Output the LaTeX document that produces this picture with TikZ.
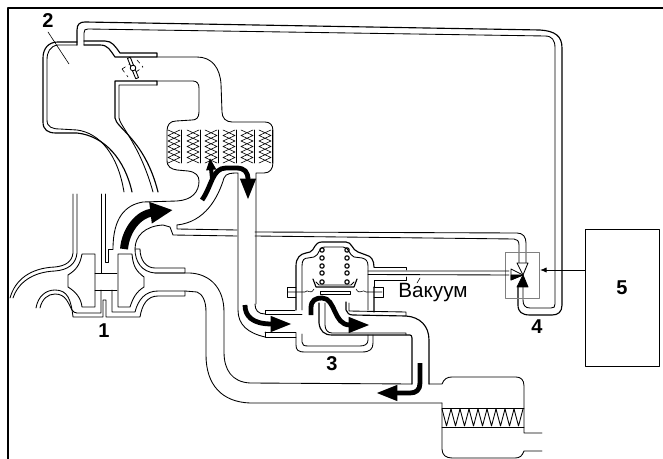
\documentclass[tikz,border=0pt]{standalone}
\usepackage{fontspec}
\setmainfont{Liberation Sans}
\usetikzlibrary{arrows.meta}
\begin{document}
\begin{tikzpicture}[x=.75pt,y=-.75pt,line cap=round,line join=round]
  \tikzset{pipe/.style={line width=.65pt},
    wall/.style={line width=.85pt},
    fine/.style={line width=.45pt},
    flow/.style={line width=3.6pt,line cap=butt,-{Triangle[length=16pt,width=11pt]}},
    num/.style={font=\fontsize{15}{18}\selectfont\bfseries,inner sep=0pt}}
  \useasboundingbox (0,0) rectangle (663,459);
  % frame
  \draw[line width=1.6pt,line cap=butt] (8,459)--(8,8)--(663,8);
  % chamber 2
  \draw[wall] (77,42)--(58,42) .. controls (48,42) and (43,49) .. (43,58)--(43,122) .. controls (43,130) and (48,133) .. (56,133)--(77,133) .. controls (105,136) and (125,160) .. (132,192);
  \draw[pipe] (77,45)--(58,45) .. controls (50,46) and (47,52) .. (47,60)--(47,120) .. controls (47,127) and (52,129) .. (60,129)--(77,130) .. controls (100,133) and (118,155) .. (124,192);
  \draw[wall] (77,45)--(77,30) .. controls (77,24) and (80,22) .. (85,22)--(540,30) .. controls (555,31) and (562,36) .. (562,48)--(562,305) .. controls (562,312) and (558,315) .. (552,315)--(530,315) .. controls (522,315) and (518,312) .. (518,305)--(518,287);
  \draw[pipe] (84,45)--(84,33) .. controls (84,30) and (85,29) .. (88,29)--(545,36) .. controls (552,36) and (555,40) .. (555,48)--(555,304) .. controls (555,307) and (554,308) .. (551,308)--(530,308) .. controls (525,308) and (523,305) .. (523,300)--(523,287);
  \draw[wall] (84,41)--(105,41) .. controls (112,41) and (115,46) .. (120,53)--(157,53)--(157,57)--(115,57) .. controls (110,50) and (108,45) .. (100,45)--(84,45);
  % throttle
  \draw[pipe] (157,57)--(197,57) .. controls (212,57) and (220,68) .. (221,84)--(222,112) .. controls (222,118) and (226,122) .. (232,122)--(265,122) .. controls (270,122) and (273,125) .. (273,131)--(273,162) .. controls (273,169) and (270,173) .. (264,173)--(256,173)--(256,304);
  \draw[wall] (157,85)--(157,81)--(115,81)--(115,118) .. controls (116,128) and (145,140) .. (158,192);
  \draw[pipe] (157,85)--(119,85)--(119,118) .. controls (120,126) and (140,145) .. (153,192);
  \draw[pipe] (157,81)--(193,81) .. controls (197,81) and (199,84) .. (199,88)--(199,112) .. controls (199,118) and (196,120) .. (192,120)--(176,121) .. controls (170,121) and (167,125) .. (167,131)--(167,160) .. controls (167,167) and (171,169) .. (177,170)--(188,171) .. controls (196,172) and (199,176) .. (199,181) .. controls (199,192) and (192,200) .. (177,201)--(143,202) .. controls (125,205) and (113,218) .. (113,249);
  \draw[fine,dashed] (122,69)--(128,77) (137,60)--(143,67) (122,69)--(130,64) (136,72)--(143,67);
  \draw[pipe,fill=white,rotate around={22:(133,68)}] (131.5,57) rectangle (134.5,79);
  \draw[pipe,fill=white] (133,68) circle (2.8);
  % intercooler core
  \foreach \cx in {167,186,204,222,240,258}{
    \foreach \cy in {130,141,152}{
      \draw[fine] (\cx+1,\cy)--(\cx+13,\cy+5.5)--(\cx+1,\cy+11);
      \draw[fine] (\cx+13,\cy)--(\cx+1,\cy+5.5)--(\cx+13,\cy+11);
    }
    \draw[pipe] (\cx+14,130)--(\cx+14,163);
  }
  % compressor duct
  \draw[pipe] (135,249) .. controls (135,236) and (145,226) .. (163,225)--(170,227)--(173,235)--(237,236);
  \draw[pipe] (177,225)--(177,229)--(237,230);
  \draw[pipe] (177,225) .. controls (205,222) and (218,198) .. (224,178) .. controls (226,173) and (232,173) .. (238,173)--(238,310) .. controls (238,325) and (248,333) .. (265,337);
  \draw[pipe] (255,232)--(517,233) .. controls (523,233) and (526,237) .. (526,243)--(526,263);
  \draw[pipe] (255,236)--(514,239) .. controls (517,239) and (519,241) .. (519,245)--(519,263);
  \draw[pipe] (255,304) .. controls (255,310) and (258,314) .. (265,314);
  % turbo wheels
  \draw[pipe] (118,254)--(132,254) .. controls (133,266) and (136,271) .. (144,277)--(144,287) .. controls (136,292) and (133,298) .. (130,307)--(118,307)--cycle;
  \draw[pipe] (82,254)--(95,254)--(95,307)--(82,307) .. controls (81,298) and (76,292) .. (68,287)--(68,275) .. controls (76,270) and (80,265) .. (82,254);
  \draw[pipe] (95,273)--(117,273) (95,290)--(117,290);
  % turbo casings
  \draw[pipe] (73,194)--(73,253) .. controls (72,262) and (65,266) .. (55,267) .. controls (30,268) and (15,280) .. (10,298);
  \draw[pipe] (77,194)--(77,253) .. controls (76,264) and (68,270) .. (55,271) .. controls (32,272) and (18,283) .. (13,298);
  \draw[pipe] (101,194)--(101,273) (105,194)--(105,262)--(108,262)--(108,249)--(113,249);
  \draw[pipe] (36,308) .. controls (38,296) and (46,290) .. (55,290) .. controls (68,290) and (71,300) .. (73,317)--(103,317)--(103,300)--(106,300)--(106,317)--(140,317) .. controls (142,305) and (147,296) .. (158,296)--(185,296)--(185,291)--(158,291) .. controls (145,291) and (138,300) .. (135,312)--(112,312)--(112,290);
  \draw[pipe] (40,308) .. controls (42,299) and (48,294) .. (55,294) .. controls (66,294) and (68,303) .. (72,310) .. controls (73,312) and (75,313) .. (77,313)--(101,313)--(101,290);
  \draw[pipe] (135,249)--(140,249) .. controls (140,260) and (146,268) .. (155,268)--(185,268)--(185,273)--(155,273) .. controls (142,272) and (135,262) .. (135,249);
  % exhaust duct to muffler
  \draw[pipe] (155,273)--(190,273) .. controls (210,274) and (224,288) .. (224,312)--(224,352) .. controls (224,370) and (232,382) .. (250,383)--(412,384);
  \draw[pipe] (185,291)--(197,292) .. controls (202,294) and (206,300) .. (206,312)--(206,355) .. controls (206,385) and (222,402) .. (250,403)--(442,403);
  % muffler
  \draw[pipe] (429,384)--(442,384) .. controls (444,379) and (447,377) .. (452,377)--(516,377) .. controls (521,377) and (524,380) .. (524,386)--(524,433)--(542,433);
  \draw[pipe] (542,451)--(524,451) .. controls (522,456) and (520,458) .. (515,458)--(452,458) .. controls (446,458) and (442,455) .. (442,449)--(442,403);
  \draw[pipe] (442,408)--(524,408) (442,427)--(524,427);
  \foreach \mx in {442,451,460,469,478,487,496,505,514}{
    \draw[pipe] (\mx,409)--(\mx+4.5,426)--(\mx+9,409);
  }
  % valve 3
  \draw[wall] (296,310)--(296,266) .. controls (296,258) and (300,254) .. (306,253)--(310,252) .. controls (315,250) and (314,242) .. (322,242)--(346,242) .. controls (352,242) and (352,250) .. (358,252)--(366,255) .. controls (371,256) and (374,260) .. (374,267) (374,287)--(374,312);
  \draw[pipe] (302,310)--(302,266) .. controls (302,260) and (304,258) .. (308,258)--(314,257) .. controls (320,255) and (318,247) .. (325,247)--(343,247) .. controls (349,247) and (349,255) .. (354,257)--(362,258) .. controls (366,259) and (368,261) .. (368,266)--(368,310);
  \draw[pipe] (296,287)--(287,287)--(287,297)--(296,297) (374,287)--(383,287)--(383,297)--(374,297);
  \draw[fine] (288,292)--(305,292) .. controls (308,288) and (310,296) .. (314,289) (356,289) .. controls (360,296) and (363,288) .. (366,292)--(382,292);
  \draw[wall] (313,279)--(316,287)--(354,287)--(357,279);
  \draw[pipe] (316,282)--(319,285)--(351,285)--(354,282);
  \draw[pipe] (320,291)--(350,291)--(350,294)--(320,294)--cycle;
  \foreach \cy in {250,258,266,273,282}{
    \draw[wall] (322,\cy) circle (2.2); \draw[wall] (347,\cy) circle (2.2);
  }
  % inlet and outlet of valve 3
  \draw[pipe] (295,310)--(265,310)--(265,314)--(302,314);
  \draw[pipe] (265,332)--(296,332) (265,332)--(265,337)--(296,337);
  \draw[pipe] (296,333)--(296,345) .. controls (296,350) and (298,352) .. (305,352)--(362,352) .. controls (370,352) and (373,349) .. (373,343)--(373,335);
  \draw[pipe] (302,334)--(302,342) .. controls (302,345) and (304,346) .. (308,346)--(360,346) .. controls (365,346) and (368,344) .. (368,340)--(368,335);
  \draw[wall] (319,303)--(319,323) .. controls (320,331) and (324,335) .. (332,335)--(410,335) .. controls (411,335) and (412,336) .. (412,338)--(412,384);
  \draw[pipe] (325,303)--(325,325) .. controls (325,330) and (328,333) .. (332,333)--(406,333)--(406,335);
  \draw[wall] (346,302)--(346,310) .. controls (347,313) and (349,315) .. (353,315)--(406,316) .. controls (420,317) and (429,326) .. (429,340)--(429,384);
  \draw[pipe] (349,303)--(349,311)--(406,312)--(406,316);
  % valve 4
  \draw[pipe,gray] (505,252) rectangle (539,298);
  \draw[pipe] (368,271)--(509,271) (368,274.5)--(509,275);
  \draw[pipe] (374,267)--(406,267)--(406,270) (406,277)--(406,280)--(374,280)--(374,287);
  \draw[pipe,fill=white] (523,275)--(517,263)--(528,263)--cycle;
  \draw[pipe,fill=black] (523,275)--(517,287)--(528,287)--cycle;
  \draw[pipe,fill=white] (523,275)--(511,269)--(511,280)--cycle;
  \draw[fill=black] (523,275)--(511,280)--(511,275)--cycle;
  % control unit 5
  \node[draw,line width=.65pt,minimum width=55.5pt,minimum height=102.75pt,inner sep=0pt,anchor=north west] (box5) at (585,229) {};
  \coordinate (cmd) at (540,270);
  \draw[pipe,-{Latex[length=5pt,width=4pt]}] (585,270)--(cmd);
  % black flow arrows
  \draw[flow,line width=6pt,-{Triangle[length=17pt,width=15pt]}] (124,249) .. controls (126,228) and (140,214) .. (173,210);
  \draw[flow] (202,200) .. controls (212,186) and (212,168) .. (226,168)--(236,168) .. controls (245,168) and (248,172) .. (248,180)--(248,200);
  \draw[flow,line width=3pt,-{Triangle[length=9pt,width=7pt]}] (212,178)--(210,158);
  \draw[flow] (245,305) .. controls (245,316) and (252,324) .. (292,324);
  \draw[flow] (311,315)--(311,308) .. controls (311,300) and (316,298) .. (322,298) .. controls (336,298) and (333,325) .. (370,325);
  \draw[flow] (420,363)--(420,383) .. controls (420,390) and (416,393) .. (410,393)--(376,393);
  % labels
  \node[num] (lab1) at (104,331) {1};
  \node[num] (lab2) at (48,21) {2};
  \node[num] (lab3) at (332,364) {3};
  \node[num] (lab4) at (537,327) {4};
  \node[num] (lab5) at (622,288) {5};
  \node[inner sep=0pt,font=\fontsize{15.5}{18}\selectfont] (vac) at (433,293) {Вакуум};
  \coordinate (vacend) at (420,278);
  \draw[fine] (417,283)--(vacend);
  \coordinate (twoend) at (69,64);
  \draw[fine] (48,32)--(twoend);
\end{tikzpicture}
\end{document}
